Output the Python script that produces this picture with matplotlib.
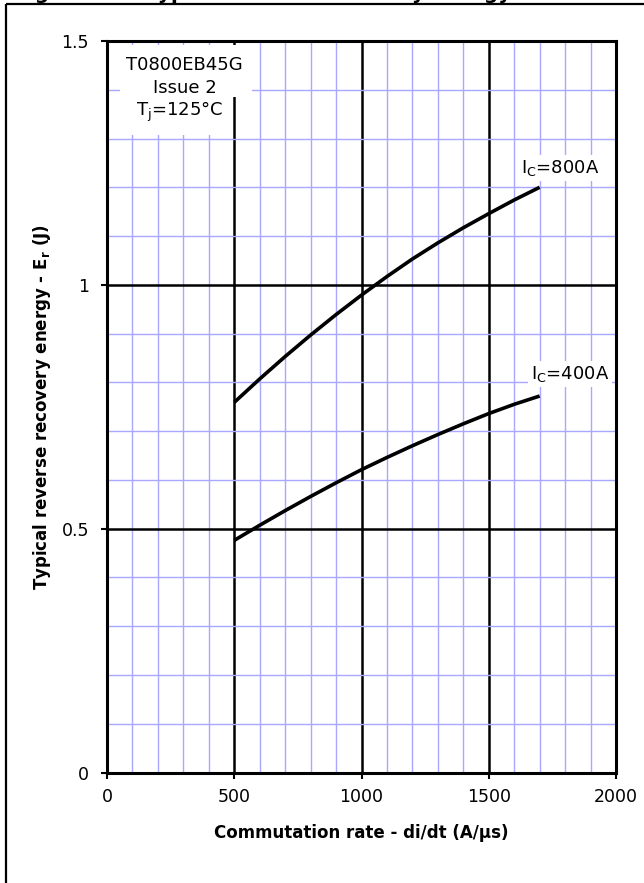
import matplotlib
matplotlib.use("Agg")
import matplotlib.pyplot as plt
from matplotlib.lines import Line2D
from matplotlib.patches import Rectangle
from matplotlib.ticker import MultipleLocator

plt.rcParams['font.family'] = ['DejaVu Sans']

# ---- data ----
di_dt = [500, 600, 700, 800, 900, 1000, 1100, 1200, 1300, 1400, 1500, 1600, 1700]
er_800A = [0.759, 0.807, 0.853, 0.897, 0.939, 0.979, 1.017, 1.053, 1.086, 1.117, 1.146, 1.174, 1.200]
er_400A = [0.476, 0.507, 0.537, 0.566, 0.594, 0.621, 0.646, 0.670, 0.693, 0.715, 0.736, 0.755, 0.772]
x_ticks = [0, 500, 1000, 1500, 2000]
y_ticks = [0, 0.5, 1, 1.5]
y_tick_labels = ["0", "0.5", "1", "1.5"]
label_800 = r"I$_\mathregular{C}$=800A"
label_400 = r"I$_\mathregular{C}$=400A"
info_lines = ["T0800EB45G", "Issue 2", r"T$_\mathregular{j}$=125°C"]
title = "Figure 12 – Typical reverse recovery energy"
x_label = "Commutation rate - di/dt (A/µs)"
y_label = r"Typical reverse recovery energy - E$_\mathbf{r}$ (J)"

W, H = 644, 883
fig = plt.figure(figsize=(W / 100, H / 100), dpi=100)

# outer frame (top and left visible)
fig.add_artist(Line2D([6 / W, 6 / W], [0, 1 - 4 / H], color='black', lw=1.6,
                      transform=fig.transFigure, solid_capstyle='butt'))
fig.add_artist(Line2D([6 / W, 1], [1 - 4 / H, 1 - 4 / H], color='black', lw=1.6,
                      transform=fig.transFigure, solid_capstyle='butt'))
# cut-off title (only descenders visible, as in the reference)
fig.text(14 / W, 1 + 1 / H, title, ha='left', va='baseline', fontsize=14.5,
         fontweight='bold')

left, right, top, bottom = 107, 616, 41, 772.5
ax = fig.add_axes([left / W, 1 - bottom / H, (right - left) / W, (bottom - top) / H])

ax.set_xlim(0, 2000)
ax.set_ylim(0, 1.5)
ax.set_xticks(x_ticks)
ax.set_yticks(y_ticks)
ax.set_yticklabels(y_tick_labels)
ax.xaxis.set_minor_locator(MultipleLocator(100))
ax.yaxis.set_minor_locator(MultipleLocator(0.1))

ax.grid(which='minor', color='#a8a8ff', lw=1.0, zorder=0)
ax.grid(which='major', color='black', lw=1.8, zorder=1)
ax.set_axisbelow(True)
ax.tick_params(which='minor', length=0)
ax.tick_params(which='major', direction='out', length=4, width=1.5,
               labelsize=12.5, pad=7)
ax.tick_params(axis='y', pad=9)
for s in ax.spines.values():
    s.set_linewidth(2.2)
    s.set_color('black')

ax.plot(di_dt, er_800A, color='black', lw=2.6, zorder=5, solid_capstyle='butt')
ax.plot(di_dt, er_400A, color='black', lw=2.6, zorder=5, solid_capstyle='butt')

bbox_w = dict(boxstyle='square,pad=0.15', fc='white', ec='none')
ax.text(1625, 1.24, label_800, fontsize=13, ha='left', va='center',
        bbox=bbox_w, zorder=6)
ax.text(1665, 0.817, label_400, fontsize=13, ha='left', va='center',
        bbox=bbox_w, zorder=6)

# info box (white patches covering grid)
ax.add_patch(Rectangle((50, 1.386), 519, 0.106, fc='white', ec='none', zorder=3))
ax.add_patch(Rectangle((50, 1.308), 433, 0.08, fc='white', ec='none', zorder=3))
ax.text(305, 1.451, info_lines[0], fontsize=13, ha='center', va='center', zorder=6)
ax.text(305, 1.404, info_lines[1], fontsize=13, ha='center', va='center', zorder=6)
ax.text(287, 1.355, info_lines[2], fontsize=13, ha='center', va='center', zorder=6)

ax.set_xlabel(x_label, fontsize=12, fontweight='bold', labelpad=13)
ax.set_ylabel(y_label, fontsize=12, fontweight='bold', labelpad=6)

fig.savefig("out.png", dpi=100)
